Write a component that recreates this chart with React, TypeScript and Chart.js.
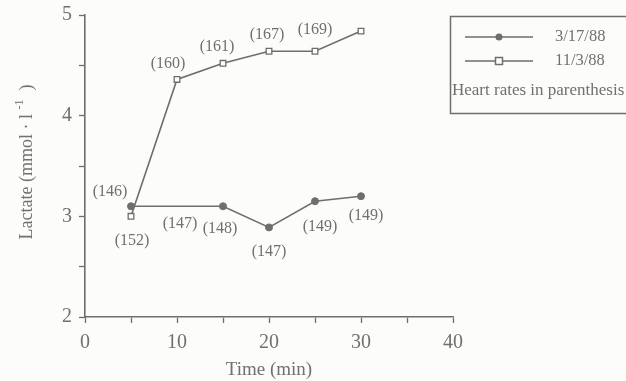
import React, { useEffect, useRef } from "react";
import { Chart, registerables } from "chart.js";
Chart.register(...registerables);

// Data
const timesA = [5, 15, 20, 25, 30];
const lactateA = [3.1, 3.1, 2.89, 3.15, 3.2];
const timesB = [5, 10, 15, 20, 25, 30];
const lactateB = [3.0, 4.36, 4.52, 4.64, 4.64, 4.84];
const hrTimesA = [5, 10, 15, 20, 25, 30];
const heartRatesA = [146, 147, 148, 147, 149, 149];
const hrTimesB = [5, 10, 15, 20, 25];
const heartRatesB = [152, 160, 161, 167, 169];
const seriesNames = ["3/17/88", "11/3/88"];
const legendNote = "Heart rates in parenthesis";
const xTickValues = [0, 10, 20, 30, 40];
const yTickValues = [2, 3, 4, 5];

// label pixel offsets (style)
const offsA = [[-21, -14], [3, 18], [-3, 23], [0, 24], [5, 26], [5, 20]];
const offsB = [[1, 24], [-9, -16], [-6, -17], [-2, -16], [0, -21]];

const INK = "#6e6e6e";
const TEXT = "#707070";
const SERIF = "'Liberation Serif', 'DejaVu Serif', serif";

function interp(xs: number[], ys: number[], x: number) {
  for (let i = 0; i < xs.length - 1; i++) {
    if (x >= xs[i] && x <= xs[i + 1]) {
      const t = (x - xs[i]) / (xs[i + 1] - xs[i]);
      return ys[i] + t * (ys[i + 1] - ys[i]);
    }
  }
  return ys[ys.length - 1];
}

const annotationPlugin = {
  id: "annotations",
  afterDraw(chart: any) {
    const ctx = chart.ctx;
    const xs = chart.scales.x;
    const ys = chart.scales.y;
    ctx.save();
    ctx.fillStyle = TEXT;
    ctx.font = `16px ${SERIF}`;
    ctx.textAlign = "center";
    ctx.textBaseline = "middle";
    hrTimesA.forEach((t, i) => {
      const px = xs.getPixelForValue(t);
      const py = ys.getPixelForValue(interp(timesA, lactateA, t));
      ctx.fillText(`(${heartRatesA[i]})`, px + offsA[i][0], py + offsA[i][1]);
    });
    hrTimesB.forEach((t, i) => {
      const px = xs.getPixelForValue(t);
      const py = ys.getPixelForValue(interp(timesB, lactateB, t));
      ctx.fillText(`(${heartRatesB[i]})`, px + offsB[i][0], py + offsB[i][1]);
    });

    // Y axis title with superscript
    ctx.save();
    const cy = 162;
    ctx.translate(27, cy);
    ctx.rotate(-Math.PI / 2);
    ctx.textBaseline = "middle";
    ctx.textAlign = "left";
    const main = "Lactate (mmol · l ";
    const sup = "-1";
    const end = "  )";
    ctx.font = `18px ${SERIF}`;
    const w1 = ctx.measureText(main).width;
    const w3 = ctx.measureText(end).width;
    ctx.font = `12px ${SERIF}`;
    const w2 = ctx.measureText(sup).width;
    const total = w1 + w2 + w3;
    const x0 = -total / 2;
    ctx.font = `18px ${SERIF}`;
    ctx.fillText(main, x0, 0);
    ctx.font = `12px ${SERIF}`;
    ctx.fillText(sup, x0 + w1, -7);
    ctx.font = `18px ${SERIF}`;
    ctx.fillText(end, x0 + w1 + w2, 0);
    ctx.restore();

    // Legend box
    ctx.strokeStyle = INK;
    ctx.lineWidth = 1.5;
    ctx.strokeRect(450.5, 16.5, 190, 97);
    const lx0 = 465, lx1 = 533, mx = 499;
    const rows = [37, 61];
    rows.forEach((y, i) => {
      ctx.beginPath();
      ctx.moveTo(lx0, y);
      ctx.lineTo(lx1, y);
      ctx.stroke();
      if (i === 0) {
        ctx.fillStyle = INK;
        ctx.beginPath();
        ctx.arc(mx, y, 3.5, 0, Math.PI * 2);
        ctx.fill();
      } else {
        ctx.fillStyle = "#ffffff";
        ctx.fillRect(mx - 3.5, y - 3.5, 7, 7);
        ctx.strokeRect(mx - 3.5, y - 3.5, 7, 7);
      }
      ctx.fillStyle = TEXT;
      ctx.font = `16.5px ${SERIF}`;
      ctx.textAlign = "left";
      ctx.textBaseline = "middle";
      ctx.fillText(seriesNames[i], 555, y);
    });
    ctx.font = `17px ${SERIF}`;
    ctx.fillText(legendNote, 452, 91);
    ctx.restore();
  },
};

const bgPlugin = {
  id: "bg",
  beforeDraw(chart: any) {
    const ctx = chart.ctx;
    ctx.save();
    ctx.fillStyle = "#fcfcfa";
    ctx.fillRect(0, 0, chart.width, chart.height);
    ctx.restore();
  },
};

export default function App() {
  const ref = useRef<HTMLCanvasElement>(null);
  useEffect(() => {
    if (!ref.current) return;
    const chart = new Chart(ref.current, {
      type: "line",
      data: {
        datasets: [
          {
            label: seriesNames[0],
            data: timesA.map((t, i) => ({ x: t, y: lactateA[i] })),
            borderColor: INK,
            backgroundColor: INK,
            borderWidth: 1.6,
            pointStyle: "circle",
            pointRadius: 3.5,
            pointBorderWidth: 1,
          },
          {
            label: seriesNames[1],
            data: timesB.map((t, i) => ({ x: t, y: lactateB[i] })),
            borderColor: INK,
            backgroundColor: "#ffffff",
            borderWidth: 1.6,
            pointStyle: "rect",
            pointRadius: 4,
            pointBorderWidth: 1.3,
          },
        ],
      },
      options: {
        animation: false,
        responsive: false,
        layout: { padding: { top: 15, right: 173, left: 0, bottom: 0 } },
        plugins: { legend: { display: false }, tooltip: { enabled: false } },
        scales: {
          x: {
            type: "linear",
            min: 0,
            max: 40,
            afterBuildTicks: (s: any) => {
              const arr: any[] = [];
              for (let v = 0; v <= 40; v += 5) arr.push({ value: v });
              s.ticks = arr;
            },
            afterFit: (s: any) => { s.height = 64; },
            border: { color: INK, width: 1.6 },
            grid: { drawOnChartArea: false, tickLength: 6, color: INK, tickWidth: 1.3 },
            ticks: {
              color: TEXT,
              font: { family: SERIF, size: 20 },
              padding: 8,
              callback: (v: any) => (xTickValues.includes(v) ? String(v) : ""),
            },
            title: {
              display: true,
              text: "Time (min)",
              color: TEXT,
              font: { family: SERIF, size: 19 },
              padding: { top: 3, bottom: 0 },
            },
          },
          y: {
            type: "linear",
            min: 2,
            max: 5,
            afterBuildTicks: (s: any) => {
              const arr: any[] = [];
              for (let v = 2; v <= 5.001; v += 0.5) arr.push({ value: v });
              s.ticks = arr;
            },
            afterFit: (s: any) => { s.width = 85; s.paddingTop = 0; s.paddingBottom = 0; },
            border: { color: INK, width: 1.6 },
            grid: { drawOnChartArea: false, tickLength: 6, color: INK, tickWidth: 1.3 },
            ticks: {
              color: TEXT,
              font: { family: SERIF, size: 20, lineHeight: 1 },
              padding: 7,
              callback: (v: any) => (yTickValues.includes(v) ? String(v) : ""),
            },
          },
        },
      },
      plugins: [bgPlugin, annotationPlugin],
    } as any);
    return () => chart.destroy();
  }, []);
  return (
    <div style={{ position: "fixed", left: 0, top: 0, width: 626, height: 381 }}>
      <canvas ref={ref} width={626} height={381} style={{ width: 626, height: 381 }} />
    </div>
  );
}
